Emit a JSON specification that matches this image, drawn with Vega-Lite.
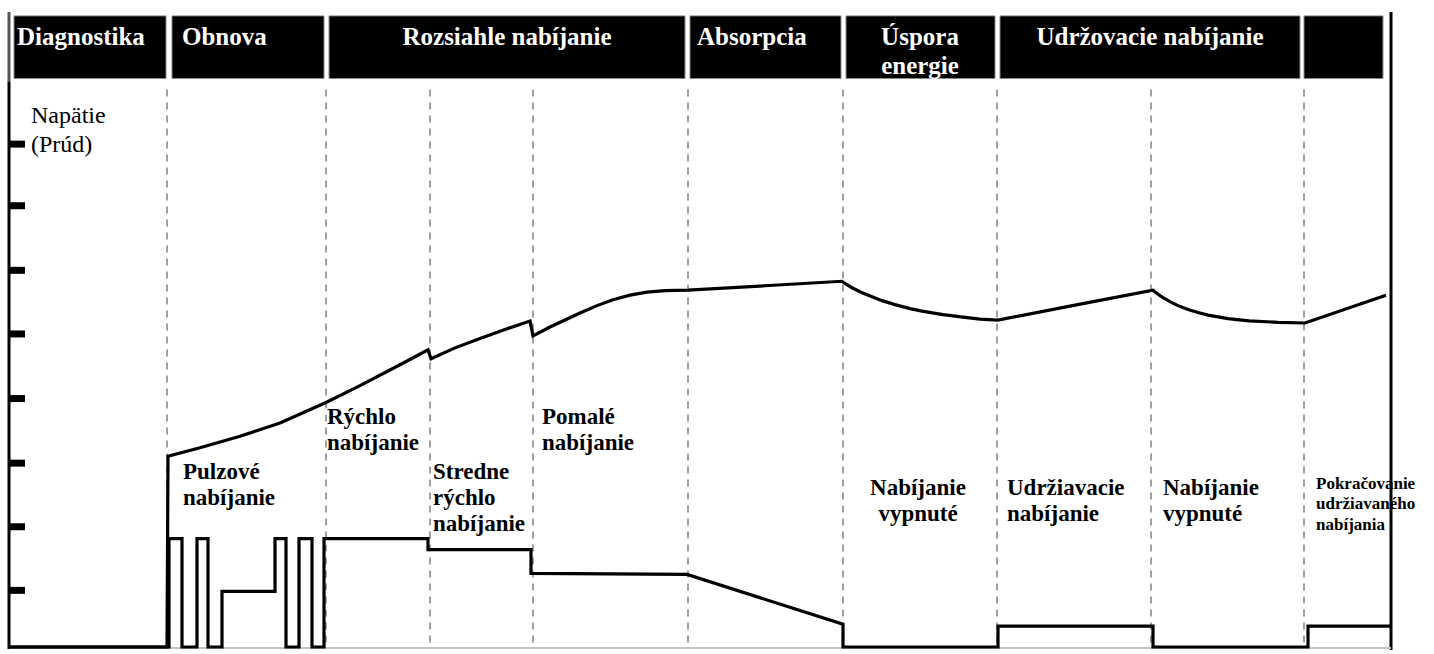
{
  "$schema": "https://vega.github.io/schema/vega-lite/v6.json",
  "width": 1434,
  "height": 654,
  "autosize": {"type": "fit", "contains": "padding"},
  "padding": 0,
  "background": "white",
  "config": {"view": {"stroke": null}},
  "datasets": {
    "phases": [
      {"phase": "Diagnostika", "start": 14, "end": 166},
      {"phase": "Obnova", "start": 172, "end": 324},
      {"phase": "Rozsiahle nabíjanie", "start": 329, "end": 685},
      {"phase": "Absorpcia", "start": 690, "end": 841},
      {"phase": "Úspora energie", "start": 846, "end": 995},
      {"phase": "Udržovacie nabíjanie", "start": 1000, "end": 1300},
      {"phase": "", "start": 1304, "end": 1383}
    ],
    "headLeft": [
      {"t": 17, "v": 45, "label": "Diagnostika"},
      {"t": 182, "v": 45, "label": "Obnova"},
      {"t": 697, "v": 45, "label": "Absorpcia"}
    ],
    "headCenter": [
      {"t": 507, "v": 45, "label": "Rozsiahle nabíjanie"},
      {"t": 920, "v": 45, "label": "Úspora\nenergie"},
      {"t": 1150, "v": 45, "label": "Udržovacie nabíjanie"}
    ],
    "bounds": [
      {"t": 167}, {"t": 326}, {"t": 430}, {"t": 533}, {"t": 688},
      {"t": 843}, {"t": 997}, {"t": 1151}, {"t": 1304}
    ],
    "ticks": [
      {"v": 145}, {"v": 207}, {"v": 272}, {"v": 336},
      {"v": 401}, {"v": 466}, {"v": 530}, {"v": 594}
    ],
    "frame": [
      {"t": 9, "v1": 12, "v2": 82, "part": "top"},
      {"t": 9, "v1": 82, "v2": 653, "part": "left"},
      {"t": 1391, "v1": 12, "v2": 654, "part": "right"}
    ],
    "innerLeft": [
      {"t": 183, "v": 482, "label": "Pulzové\nnabíjanie"},
      {"t": 327, "v": 427, "label": "Rýchlo\nnabíjanie"},
      {"t": 433, "v": 482, "label": "Stredne\nrýchlo\nnabíjanie"},
      {"t": 542, "v": 427, "label": "Pomalé\nnabíjanie"},
      {"t": 1007, "v": 498, "label": "Udržiavacie\nnabíjanie"},
      {"t": 1163, "v": 498, "label": "Nabíjanie\nvypnuté"}
    ],
    "innerCenter": [
      {"t": 918, "v": 498, "label": "Nabíjanie\nvypnuté"}
    ],
    "small": [
      {"t": 1316, "v": 492, "label": "Pokračovanie\nudržiavaného\nnabíjania"}
    ],
    "ylabel": [
      {"t": 31, "v": 124, "label": "Napätie\n(Prúd)"}
    ],
    "curves": [
      {"s": "U", "i": 0, "t": 9, "v": 651},
      {"s": "U", "i": 1, "t": 167, "v": 651},
      {"s": "U", "i": 2, "t": 168, "v": 459},
      {"s": "U", "i": 3, "t": 200, "v": 450.5},
      {"s": "U", "i": 4, "t": 240, "v": 439},
      {"s": "U", "i": 5, "t": 280, "v": 425.5},
      {"s": "U", "i": 6, "t": 326, "v": 405},
      {"s": "U", "i": 7, "t": 360, "v": 388},
      {"s": "U", "i": 8, "t": 400, "v": 367},
      {"s": "U", "i": 9, "t": 428, "v": 352},
      {"s": "U", "i": 10, "t": 431, "v": 361},
      {"s": "U", "i": 11, "t": 455, "v": 350},
      {"s": "U", "i": 12, "t": 480, "v": 340.5},
      {"s": "U", "i": 13, "t": 505, "v": 331.5},
      {"s": "U", "i": 14, "t": 530, "v": 323},
      {"s": "U", "i": 15, "t": 533, "v": 338},
      {"s": "U", "i": 16, "t": 550, "v": 329},
      {"s": "U", "i": 17, "t": 565, "v": 322},
      {"s": "U", "i": 18, "t": 580, "v": 315},
      {"s": "U", "i": 19, "t": 597, "v": 307.5},
      {"s": "U", "i": 20, "t": 613, "v": 301.5},
      {"s": "U", "i": 21, "t": 630, "v": 297},
      {"s": "U", "i": 22, "t": 647, "v": 294},
      {"s": "U", "i": 23, "t": 665, "v": 292.5},
      {"s": "U", "i": 24, "t": 688, "v": 292},
      {"s": "U", "i": 25, "t": 765, "v": 287.5},
      {"s": "U", "i": 26, "t": 842, "v": 283},
      {"s": "U", "i": 27, "t": 847, "v": 286.5},
      {"s": "U", "i": 28, "t": 852, "v": 289.5},
      {"s": "U", "i": 29, "t": 861, "v": 294},
      {"s": "U", "i": 30, "t": 872, "v": 298.5},
      {"s": "U", "i": 31, "t": 882, "v": 302.5},
      {"s": "U", "i": 32, "t": 895, "v": 306.5},
      {"s": "U", "i": 33, "t": 910, "v": 310.5},
      {"s": "U", "i": 34, "t": 922, "v": 313},
      {"s": "U", "i": 35, "t": 943, "v": 316.5},
      {"s": "U", "i": 36, "t": 963, "v": 319},
      {"s": "U", "i": 37, "t": 980, "v": 321},
      {"s": "U", "i": 38, "t": 998, "v": 322},
      {"s": "U", "i": 39, "t": 1075, "v": 307},
      {"s": "U", "i": 40, "t": 1153, "v": 292},
      {"s": "U", "i": 41, "t": 1158, "v": 296},
      {"s": "U", "i": 42, "t": 1163, "v": 299.5},
      {"s": "U", "i": 43, "t": 1170, "v": 303.5},
      {"s": "U", "i": 44, "t": 1178, "v": 307.5},
      {"s": "U", "i": 45, "t": 1188, "v": 311.5},
      {"s": "U", "i": 46, "t": 1198, "v": 314.5},
      {"s": "U", "i": 47, "t": 1208, "v": 317},
      {"s": "U", "i": 48, "t": 1228, "v": 320.5},
      {"s": "U", "i": 49, "t": 1249, "v": 322.8},
      {"s": "U", "i": 50, "t": 1278, "v": 324.3},
      {"s": "U", "i": 51, "t": 1305, "v": 325},
      {"s": "U", "i": 52, "t": 1386, "v": 297},
      {"s": "I", "i": 0, "t": 9, "v": 651},
      {"s": "I", "i": 1, "t": 169, "v": 651},
      {"s": "I", "i": 2, "t": 169, "v": 542},
      {"s": "I", "i": 3, "t": 182, "v": 542},
      {"s": "I", "i": 4, "t": 182, "v": 651},
      {"s": "I", "i": 5, "t": 197, "v": 651},
      {"s": "I", "i": 6, "t": 197, "v": 542},
      {"s": "I", "i": 7, "t": 208, "v": 542},
      {"s": "I", "i": 8, "t": 208, "v": 651},
      {"s": "I", "i": 9, "t": 222, "v": 651},
      {"s": "I", "i": 10, "t": 222, "v": 595},
      {"s": "I", "i": 11, "t": 275, "v": 595},
      {"s": "I", "i": 12, "t": 275, "v": 542},
      {"s": "I", "i": 13, "t": 286, "v": 542},
      {"s": "I", "i": 14, "t": 286, "v": 651},
      {"s": "I", "i": 15, "t": 299, "v": 651},
      {"s": "I", "i": 16, "t": 299, "v": 542},
      {"s": "I", "i": 17, "t": 312, "v": 542},
      {"s": "I", "i": 18, "t": 312, "v": 651},
      {"s": "I", "i": 19, "t": 324, "v": 651},
      {"s": "I", "i": 20, "t": 324, "v": 542},
      {"s": "I", "i": 21, "t": 428, "v": 542},
      {"s": "I", "i": 22, "t": 428, "v": 553},
      {"s": "I", "i": 23, "t": 531, "v": 553},
      {"s": "I", "i": 24, "t": 531, "v": 577},
      {"s": "I", "i": 25, "t": 687, "v": 578},
      {"s": "I", "i": 26, "t": 843, "v": 628},
      {"s": "I", "i": 27, "t": 843, "v": 651},
      {"s": "I", "i": 28, "t": 998, "v": 651},
      {"s": "I", "i": 29, "t": 998, "v": 630},
      {"s": "I", "i": 30, "t": 1153, "v": 630},
      {"s": "I", "i": 31, "t": 1153, "v": 651},
      {"s": "I", "i": 32, "t": 1308, "v": 651},
      {"s": "I", "i": 33, "t": 1308, "v": 630},
      {"s": "I", "i": 34, "t": 1391, "v": 630}
    ]
  },
  "layer": [
    {
      "data": {"name": "bounds"},
      "mark": {"type": "rule", "color": "#a0a0a0", "strokeWidth": 2, "strokeDash": [7, 6]},
      "encoding": {
        "x": {"field": "t", "type": "quantitative", "scale": {"domain": [0, 1434], "nice": false, "zero": false}, "axis": null},
        "y": {"datum": 90, "type": "quantitative", "scale": {"domain": [0, 654], "nice": false, "zero": false, "reverse": true}, "axis": null},
        "y2": {"datum": 650}
      }
    },
    {
      "data": {"name": "phases"},
      "mark": {"type": "rect", "fill": "black", "stroke": "#8a8a8a", "strokeWidth": 1},
      "encoding": {
        "x": {"field": "start", "type": "quantitative", "axis": null},
        "x2": {"field": "end"},
        "y": {"datum": 16, "type": "quantitative", "axis": null},
        "y2": {"datum": 79}
      }
    },
    {
      "data": {"name": "headLeft"},
      "mark": {"type": "text", "align": "left", "baseline": "alphabetic", "font": "Liberation Serif", "fontWeight": "bold", "fontSize": 25, "color": "white"},
      "encoding": {
        "x": {"field": "t", "type": "quantitative", "axis": null},
        "y": {"field": "v", "type": "quantitative", "axis": null},
        "text": {"field": "label"}
      }
    },
    {
      "data": {"name": "headCenter"},
      "mark": {"type": "text", "align": "center", "baseline": "alphabetic", "font": "Liberation Serif", "fontWeight": "bold", "fontSize": 25, "color": "white", "lineBreak": "\n", "lineHeight": 29},
      "encoding": {
        "x": {"field": "t", "type": "quantitative", "axis": null},
        "y": {"field": "v", "type": "quantitative", "axis": null},
        "text": {"field": "label"}
      }
    },
    {
      "data": {"name": "frame"},
      "mark": {"type": "rule", "strokeWidth": 3},
      "encoding": {
        "x": {"field": "t", "type": "quantitative", "axis": null},
        "y": {"field": "v1", "type": "quantitative", "axis": null},
        "y2": {"field": "v2"},
        "color": {"field": "part", "type": "nominal", "scale": {"domain": ["top", "left", "right"], "range": ["#555555", "black", "black"]}, "legend": null}
      }
    },
    {
      "data": {"name": "ticks"},
      "mark": {"type": "rule", "color": "black", "strokeWidth": 7},
      "encoding": {
        "x": {"datum": 9, "type": "quantitative", "axis": null},
        "x2": {"datum": 25},
        "y": {"field": "v", "type": "quantitative", "axis": null}
      }
    },
    {
      "data": {"name": "curves"},
      "mark": {"type": "rule", "color": "#c4c4c4", "strokeWidth": 2},
      "transform": [{"filter": "datum.i == 0 && datum.s == 'I'"}],
      "encoding": {
        "x": {"datum": 9, "type": "quantitative", "axis": null},
        "x2": {"datum": 1391},
        "y": {"datum": 652, "type": "quantitative", "axis": null}
      }
    },
    {
      "data": {"name": "curves"},
      "mark": {"type": "line", "color": "black", "strokeWidth": 3.2, "strokeJoin": "miter"},
      "encoding": {
        "x": {"field": "t", "type": "quantitative", "axis": null},
        "y": {"field": "v", "type": "quantitative", "axis": null},
        "detail": {"field": "s"},
        "order": {"field": "i", "type": "quantitative"}
      }
    },
    {
      "data": {"name": "innerLeft"},
      "mark": {"type": "text", "align": "left", "baseline": "alphabetic", "font": "Liberation Serif", "fontWeight": "bold", "fontSize": 23, "color": "black", "lineBreak": "\n", "lineHeight": 26},
      "encoding": {
        "x": {"field": "t", "type": "quantitative", "axis": null},
        "y": {"field": "v", "type": "quantitative", "axis": null},
        "text": {"field": "label"}
      }
    },
    {
      "data": {"name": "innerCenter"},
      "mark": {"type": "text", "align": "center", "baseline": "alphabetic", "font": "Liberation Serif", "fontWeight": "bold", "fontSize": 23, "color": "black", "lineBreak": "\n", "lineHeight": 26},
      "encoding": {
        "x": {"field": "t", "type": "quantitative", "axis": null},
        "y": {"field": "v", "type": "quantitative", "axis": null},
        "text": {"field": "label"}
      }
    },
    {
      "data": {"name": "small"},
      "mark": {"type": "text", "align": "left", "baseline": "alphabetic", "font": "Liberation Serif", "fontWeight": "bold", "fontSize": 17, "color": "black", "lineBreak": "\n", "lineHeight": 20.5},
      "encoding": {
        "x": {"field": "t", "type": "quantitative", "axis": null},
        "y": {"field": "v", "type": "quantitative", "axis": null},
        "text": {"field": "label"}
      }
    },
    {
      "data": {"name": "ylabel"},
      "mark": {"type": "text", "align": "left", "baseline": "alphabetic", "font": "Liberation Serif", "fontSize": 24, "color": "black", "lineBreak": "\n", "lineHeight": 29},
      "encoding": {
        "x": {"field": "t", "type": "quantitative", "axis": null},
        "y": {"field": "v", "type": "quantitative", "axis": null},
        "text": {"field": "label"}
      }
    }
  ]
}
